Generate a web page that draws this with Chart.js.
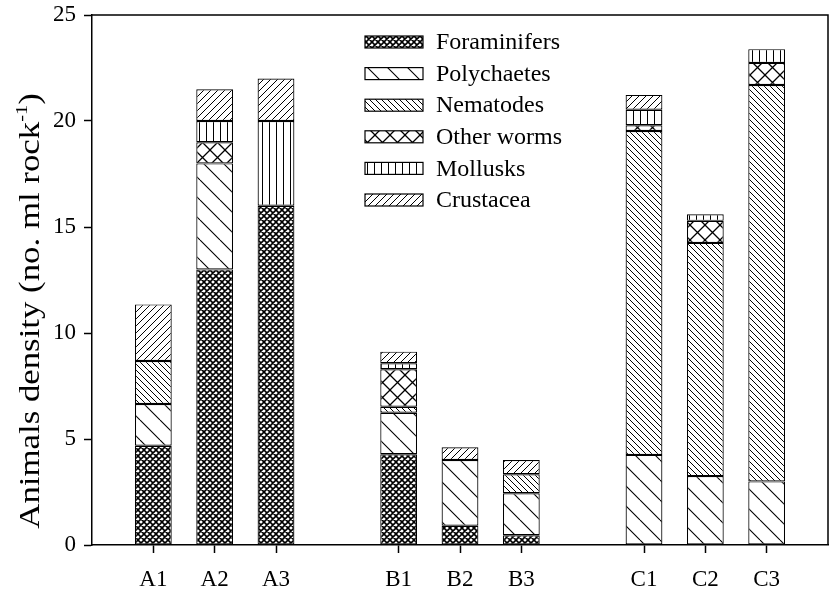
<!DOCTYPE html>
<html>
<head>
<meta charset="utf-8">
<script src="https://cdn.jsdelivr.net/npm/chart.js@4/dist/chart.umd.min.js"></script>
<style>
  html, body { margin: 0; padding: 0; background: #fff; }
  #wrap { width: 831px; height: 591px; }
</style>
</head>
<body>
<div id="wrap"><canvas id="c" width="831" height="591"></canvas></div>
<script>
// ---- data (blank labels are spacer slots between site groups) ----
const categories = ['', 'A1', 'A2', 'A3', '', 'B1', 'B2', 'B3', '', 'C1', 'C2', 'C3', ''];
const seriesNames = ['Foraminifers', 'Polychaetes', 'Nematodes', 'Other worms', 'Mollusks', 'Crustacea'];
const foraminifers = [null, 4.68, 13.0, 16.0, null, 4.28, 0.91, 0.46, null, 0, 0, 0, null];
const polychaetes  = [null, 1.97, 5.0, 0, null, 1.96, 3.1, 1.98, null, 4.25, 3.25, 3.0, null];
const nematodes    = [null, 2.03, 0, 0, null, 0.28, 0, 0.9, null, 15.28, 11.0, 18.7, null];
const otherWorms   = [null, 0, 1.0, 0, null, 1.77, 0, 0, null, 0.27, 1.04, 1.04, null];
const mollusks     = [null, 0, 1.0, 4.0, null, 0.28, 0, 0, null, 0.73, 0.31, 0.65, null];
const crustacea    = [null, 2.67, 1.5, 2.0, null, 0.55, 0.6, 0.67, null, 0.7, 0, 0, null];
const yTicks = [0, 5, 10, 15, 20, 25];
const yTitleMain = 'Animals density (no. ml rock';
const yTitleSup = '-1';
const yTitleEnd = ')';

const seriesValues = [foraminifers, polychaetes, nematodes, otherWorms, mollusks, crustacea];

// ---- hatch patterns ----
function makePattern(kind) {
  const specs = {
    cross:  { s: 6,  lw: 1.6, back: true, fwd: true },
    sparseBack: { s: 20, lw: 1.1, back: true },
    denseBack:  { s: 6,  lw: 1.0, back: true },
    sparseCross:{ s: 15, lw: 1.3, back: true, fwd: true },
    vert:   { s: 7,  lw: 1.0, vert: true },
    denseFwd:   { s: 7,  lw: 1.0, fwd: true }
  };
  const p = specs[kind];
  const s = p.s;
  const c = document.createElement('canvas');
  c.width = s; c.height = s;
  const g = c.getContext('2d');
  g.fillStyle = '#fff';
  g.fillRect(0, 0, s, s);
  g.strokeStyle = '#000';
  g.lineWidth = p.lw;
  g.beginPath();
  for (let k = -1; k <= 1; k++) {
    if (p.back) { g.moveTo(k * s, 0); g.lineTo(k * s + s, s); }
    if (p.fwd)  { g.moveTo(k * s, s); g.lineTo(k * s + s, 0); }
  }
  if (p.vert) { g.moveTo(s / 2, 0); g.lineTo(s / 2, s); }
  g.stroke();
  return document.getElementById('c').getContext('2d').createPattern(c, 'repeat');
}
const patternKinds = ['cross', 'sparseBack', 'denseBack', 'sparseCross', 'vert', 'denseFwd'];
const patterns = patternKinds.map(makePattern);

const datasets = seriesNames.map((name, i) => ({
  label: name,
  data: seriesValues[i].map(v => (v === 0 ? null : v)),
  backgroundColor: patterns[i],
  borderColor: '#000',
  borderWidth: 1.2,
  borderSkipped: false,
  barPercentage: 0.6,
  categoryPercentage: 1.0,
  stack: 's'
}));

const SERIF = '"Liberation Serif", "Times New Roman", serif';

const framePlugin = {
  id: 'frame',
  afterDraw(chart) {
    const ctx = chart.ctx;
    const a = chart.chartArea;
    ctx.save();
    // top and right frame lines
    ctx.strokeStyle = '#000';
    ctx.lineWidth = 1.5;
    ctx.beginPath();
    ctx.moveTo(a.left, a.top);
    ctx.lineTo(a.right, a.top);
    ctx.lineTo(a.right, a.bottom);
    ctx.stroke();

    // legend
    const lx = 365, ly0 = 42, dy = 31.6, bw = 58, bh = 12;
    ctx.font = '24px ' + SERIF;
    ctx.textBaseline = 'middle';
    ctx.textAlign = 'left';
    chart.data.datasets.forEach((ds, i) => {
      const y = ly0 + i * dy;
      ctx.fillStyle = ds.backgroundColor;
      ctx.fillRect(lx, y - bh / 2, bw, bh);
      ctx.lineWidth = 1.2;
      ctx.strokeStyle = '#000';
      ctx.strokeRect(lx, y - bh / 2, bw, bh);
      ctx.fillStyle = '#000';
      ctx.fillText(ds.label, lx + bw + 13, y + 1);
    });

    // y-axis title with superscript (stretched along its length)
    const F = 29;
    const stretch = 1.2;
    ctx.translate(29, 311);
    ctx.rotate(-Math.PI / 2);
    ctx.scale(stretch, 1);
    ctx.font = F + 'px ' + SERIF;
    const w1 = ctx.measureText(yTitleMain).width;
    const w3 = ctx.measureText(yTitleEnd).width;
    ctx.font = Math.round(F * 0.6) + 'px ' + SERIF;
    const w2 = ctx.measureText(yTitleSup).width;
    const total = w1 + w2 + w3;
    let x = -total / 2;
    ctx.fillStyle = '#000';
    ctx.textBaseline = 'alphabetic';
    ctx.font = F + 'px ' + SERIF;
    ctx.fillText(yTitleMain, x, F * 0.33);
    x += w1;
    ctx.font = Math.round(F * 0.6) + 'px ' + SERIF;
    ctx.fillText(yTitleSup, x, F * 0.33 - F * 0.4);
    x += w2;
    ctx.font = F + 'px ' + SERIF;
    ctx.fillText(yTitleEnd, x, F * 0.33);
    ctx.restore();
  }
};

new Chart(document.getElementById('c'), {
  type: 'bar',
  data: { labels: categories, datasets },
  options: {
    responsive: false,
    animation: false,
    layout: { padding: { top: 15, right: 3, left: 0, bottom: 0 } },
    plugins: { legend: { display: false }, tooltip: { enabled: false } },
    scales: {
      x: {
        stacked: true,
        offset: false,
        grid: {
          offset: false,
          drawOnChartArea: false,
          drawTicks: true,
          tickLength: 8,
          tickWidth: 1.5,
          tickColor: (ctx) => (categories[ctx.index] ? '#000' : 'rgba(0,0,0,0)')
        },
        border: { color: '#000', width: 1.5 },
        ticks: {
          autoSkip: false,
          maxRotation: 0,
          color: '#000',
          padding: 13,
          font: { family: SERIF, size: 23 }
        },
        afterFit: (s) => { s.height = 46; s.paddingLeft = 0; s.paddingRight = 0; }
      },
      y: {
        stacked: true,
        min: 0,
        max: 25,
        afterBuildTicks: (s) => { s.ticks = yTicks.map(v => ({ value: v })); },
        grid: {
          drawOnChartArea: false,
          tickLength: 8,
          tickWidth: 1.5,
          tickColor: '#000'
        },
        border: { color: '#000', width: 1.5 },
        ticks: {
          color: '#000',
          padding: 8,
          font: { family: SERIF, size: 23 }
        },
        afterFit: (s) => { s.width = 92; s.paddingTop = 0; s.paddingBottom = 0; }
      }
    }
  },
  plugins: [framePlugin]
});
</script>
</body>
</html>
